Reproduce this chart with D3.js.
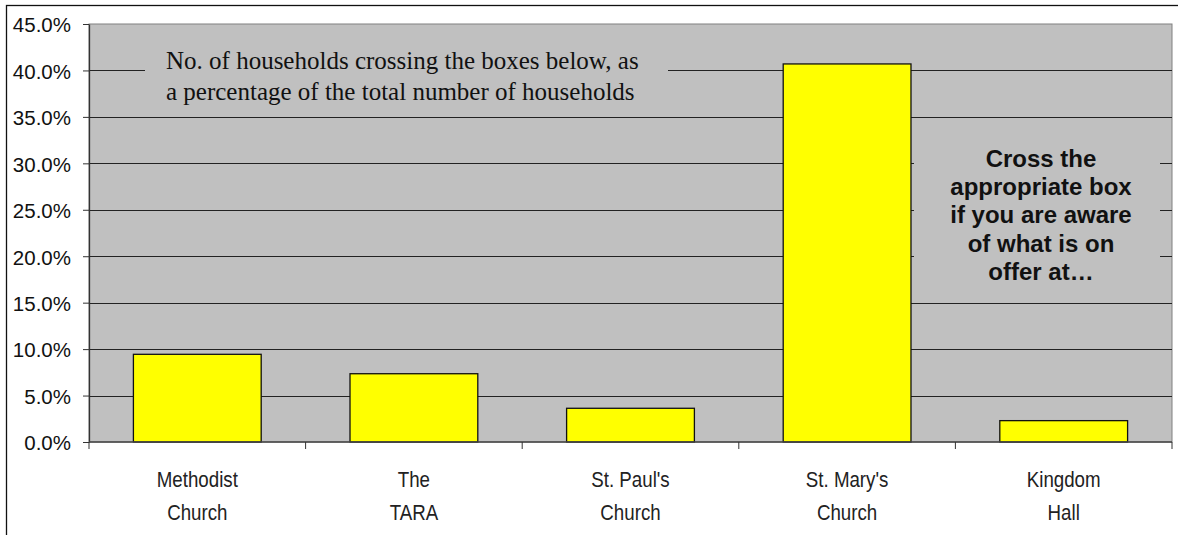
<!DOCTYPE html>
<html>
<head>
<meta charset="utf-8">
<script src="https://cdn.jsdelivr.net/npm/d3@7"></script>
<style>
  body { margin: 0; background: #fff; }
  svg { display: block; }
</style>
</head>
<body>
<div id="chart"></div>
<script>
// chart data
const venues = ["Methodist", "The", "St. Paul's", "St. Mary's", "Kingdom"];
const venuesLine2 = ["Church", "TARA", "Church", "Church", "Hall"];
const awareShare = [0.0944, 0.0735, 0.0363, 0.407, 0.023];
const yTicks = [0, 0.05, 0.10, 0.15, 0.20, 0.25, 0.30, 0.35, 0.40, 0.45];
const topNote = ["No. of households crossing the boxes below, as",
                 "a percentage of the total number of households"];
const sideNote = ["Cross the", "appropriate box", "if you are aware", "of what is on", "offer at\u2026"];

const width = 1178, height = 535;
const plot = { left: 89, right: 1172, top: 24, bottom: 442 };

const svg = d3.select("#chart").append("svg")
  .attr("width", width)
  .attr("height", height);

// outer frame
svg.append("rect")
  .attr("x", 6.5).attr("y", 5.5)
  .attr("width", 1180).attr("height", 540)
  .attr("fill", "none").attr("stroke", "#111").attr("stroke-width", 1.3);

const x = d3.scaleBand()
  .domain(venues)
  .range([plot.left, plot.right])
  .paddingInner(0.41)
  .paddingOuter(0.205);

const y = d3.scaleLinear()
  .domain([0, 0.45])
  .range([plot.bottom, plot.top]);

// plot background
svg.append("rect")
  .attr("x", plot.left).attr("y", plot.top)
  .attr("width", plot.right - plot.left).attr("height", plot.bottom - plot.top)
  .attr("fill", "#c0c0c0").attr("stroke", "#808080").attr("stroke-width", 1);

// gridlines
svg.append("g")
  .attr("transform", `translate(${plot.left},0)`)
  .call(d3.axisLeft(y).tickValues(yTicks.slice(1, -1)).tickSize(-(plot.right - plot.left)).tickFormat(""))
  .call(g => g.select(".domain").remove())
  .selectAll("line")
  .attr("stroke", "#222")
  .attr("shape-rendering", "crispEdges");

// note boxes hide the gridlines underneath
svg.append("rect")
  .attr("x", 145).attr("y", 40).attr("width", 523).attr("height", 68)
  .attr("fill", "#c0c0c0");
svg.append("rect")
  .attr("x", 914).attr("y", 138).attr("width", 246).attr("height", 150)
  .attr("fill", "#c0c0c0");

// bars
svg.selectAll(".bar")
  .data(awareShare)
  .enter()
  .append("rect")
  .attr("class", "bar")
  .attr("x", (d, i) => x(venues[i]))
  .attr("y", d => y(d))
  .attr("width", x.bandwidth())
  .attr("height", d => plot.bottom - y(d))
  .attr("fill", "#ffff00")
  .attr("stroke", "#111")
  .attr("stroke-width", 1.3);

// y axis
const yAxis = svg.append("g")
  .attr("transform", `translate(${plot.left},0)`)
  .call(d3.axisLeft(y).tickValues(yTicks).tickFormat(d3.format(".1%")).tickSize(6).tickSizeOuter(0).tickPadding(12));
yAxis.select(".domain").attr("stroke", "#333").attr("stroke-width", 1.3);
yAxis.selectAll("line").attr("stroke", "#333");
yAxis.selectAll("text")
  .attr("dy", "0.38em")
  .style("font-family", "Arial, 'Liberation Sans', sans-serif")
  .style("font-size", "20.5px")
  .attr("fill", "#111");

// x axis line and category-boundary ticks
svg.append("line")
  .attr("x1", plot.left).attr("x2", plot.right)
  .attr("y1", plot.bottom).attr("y2", plot.bottom)
  .attr("stroke", "#444").attr("stroke-width", 1.5);

const bounds = venues.map(v => x(v) - x.step() * x.paddingOuter()).concat([plot.right]);
svg.selectAll(".xtick")
  .data(bounds)
  .enter()
  .append("line")
  .attr("x1", d => d).attr("x2", d => d)
  .attr("y1", plot.bottom).attr("y2", plot.bottom + 7)
  .attr("stroke", "#333");

// x labels, two lines each, slightly condensed
const xLabels = svg.selectAll(".xlabel")
  .data(venues)
  .enter()
  .append("text")
  .attr("class", "xlabel")
  .attr("text-anchor", "middle")
  .attr("transform", d => `translate(${x(d) + x.bandwidth() / 2},0) scale(0.87,1)`)
  .style("font-family", "Arial, 'Liberation Sans', sans-serif")
  .style("font-size", "21.5px")
  .attr("fill", "#222");
xLabels.append("tspan")
  .attr("x", 0)
  .attr("y", 487)
  .text(d => d);
xLabels.append("tspan")
  .attr("x", 0)
  .attr("y", 520)
  .text((d, i) => venuesLine2[i]);

// top note
svg.append("text")
  .style("font-family", "'Times New Roman', 'Liberation Serif', serif")
  .style("font-size", "25px")
  .attr("fill", "#111")
  .selectAll("tspan")
  .data(topNote)
  .enter()
  .append("tspan")
  .attr("x", 166)
  .attr("y", (d, i) => 69 + i * 31)
  .text(d => d);

// side note
svg.append("text")
  .attr("text-anchor", "middle")
  .style("font-family", "Arial, 'Liberation Sans', sans-serif")
  .style("font-size", "24px")
  .style("font-weight", "bold")
  .attr("fill", "#111")
  .selectAll("tspan")
  .data(sideNote)
  .enter()
  .append("tspan")
  .attr("x", 1041)
  .attr("y", (d, i) => 166.5 + i * 28.4)
  .text(d => d);
</script>
</body>
</html>
